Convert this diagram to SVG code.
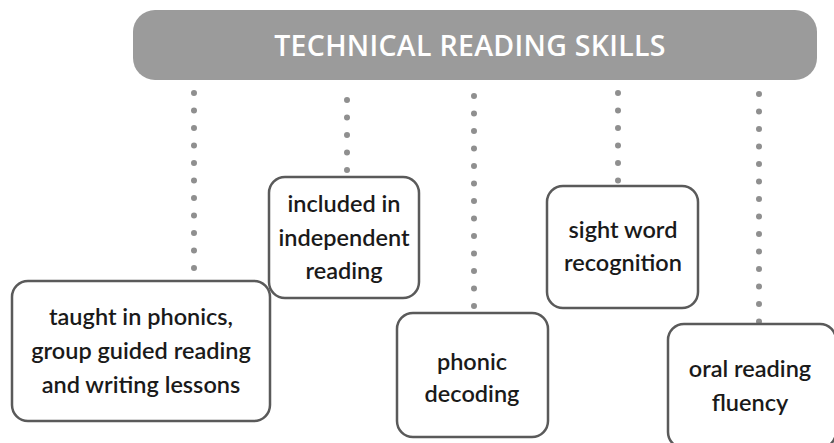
<svg xmlns="http://www.w3.org/2000/svg" width="834" height="443" viewBox="0 0 834 443">
<style>
.box{fill:#fff;stroke:#5a5a5a;stroke-width:2.5}
.t{font-family:Lato,"Open Sans","Liberation Sans",sans-serif;font-size:23.5px;fill:#1a1a1a;text-anchor:middle;font-weight:600}
.dots{stroke:#8f8f8f;stroke-width:6;stroke-linecap:round;stroke-dasharray:0 17.5;fill:none}
.hd{font-family:"Open Sans","Liberation Sans",sans-serif;font-size:28.5px;fill:#fff;text-anchor:middle;font-weight:600;letter-spacing:0.3px}
</style>
<rect width="834" height="443" fill="#fff"/>
<g id="connectors">
<line class="dots" x1="194" y1="93" x2="194" y2="270"/>
<line class="dots" x1="347" y1="100" x2="347" y2="172"/>
<line class="dots" x1="474" y1="96" x2="474" y2="308"/>
<line class="dots" x1="618" y1="93" x2="618" y2="182"/>
<line class="dots" x1="759" y1="94" x2="759" y2="322"/>
</g>
<g id="header">
<rect x="133" y="10" width="684" height="70" rx="22" fill="#9b9b9b"/>
<text class="hd" x="470" y="56">TECHNICAL READING SKILLS</text>
</g>
<g id="node1">
<rect class="box" x="12" y="281" width="258" height="140" rx="16"/>
<text class="t" x="141" y="325">taught in phonics,</text>
<text class="t" x="141" y="359">group guided reading</text>
<text class="t" x="141" y="393">and writing lessons</text>
</g>
<g id="node2">
<rect class="box" x="269" y="177" width="150" height="121" rx="16"/>
<text class="t" x="344" y="212">included in</text>
<text class="t" x="344" y="246">independent</text>
<text class="t" x="344" y="279">reading</text>
</g>
<g id="node3">
<rect class="box" x="397" y="313" width="151" height="124" rx="16"/>
<text class="t" x="472" y="370">phonic</text>
<text class="t" x="472" y="402">decoding</text>
</g>
<g id="node4">
<rect class="box" x="547" y="186" width="151" height="122" rx="16"/>
<text class="t" x="623" y="238">sight word</text>
<text class="t" x="623" y="271">recognition</text>
</g>
<g id="node5">
<rect class="box" x="668" y="324" width="168" height="124" rx="16"/>
<text class="t" x="750" y="377">oral reading</text>
<text class="t" x="750" y="411">fluency</text>
</g>
</svg>
